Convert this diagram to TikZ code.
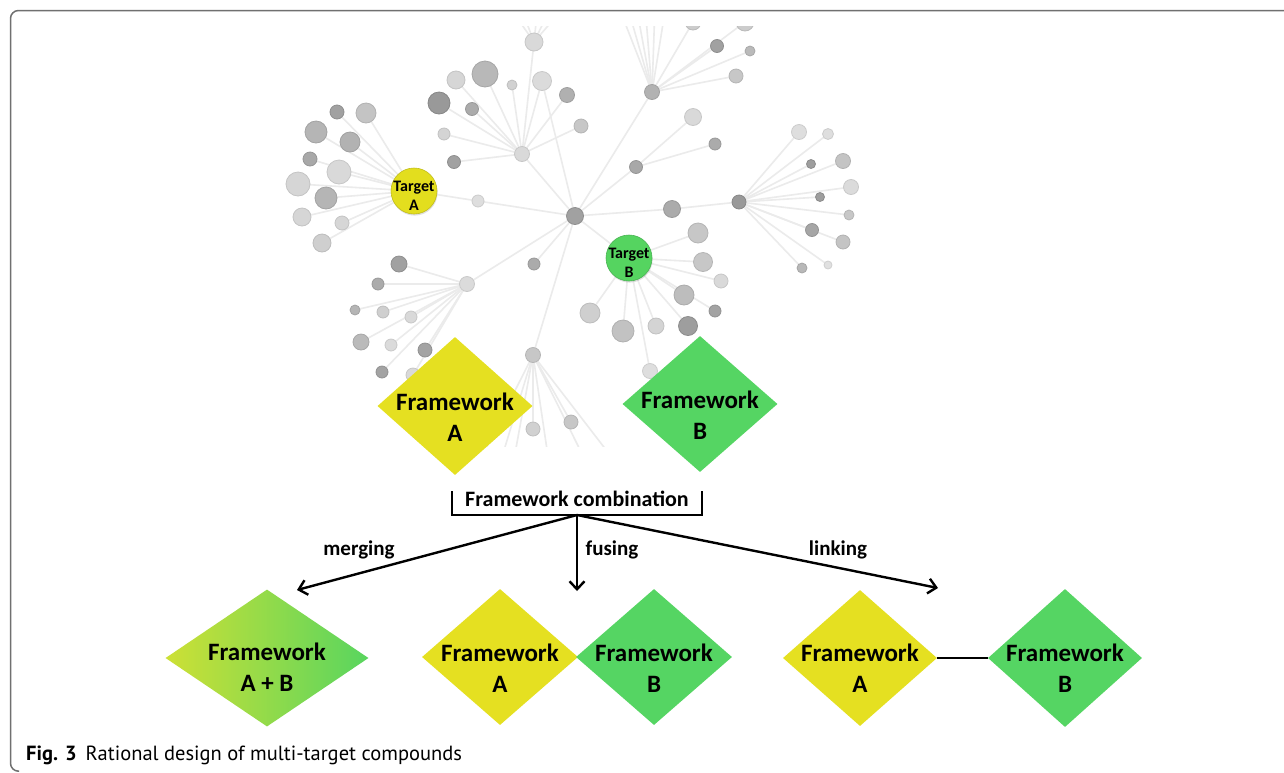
\documentclass[tikz,border=0pt]{standalone}
\usepackage{fontspec}
\setmainfont{Carlito}
\newfontfamily\capfont{PT Sans}
\usetikzlibrary{shapes.geometric,arrows.meta,shadows}
\definecolor{fwyellow}{HTML}{E5E021}
\definecolor{fwgreen}{HTML}{55D563}
\definecolor{tgyellow}{HTML}{E3DE1E}
\definecolor{tggreen}{HTML}{55D460}
\definecolor{abyellow}{HTML}{CDE035}
\definecolor{abgreen}{HTML}{58D55F}
\definecolor{edgegray}{HTML}{EBEBEB}
\definecolor{framegray}{HTML}{707070}
\tikzset{
  gedge/.style={edgegray, line width=1.6},
  gnode/.style={circle, inner sep=0pt, line width=0.8},
  target/.style={circle, inner sep=0pt, minimum size=46, line width=0.6,
    drop shadow={opacity=0.25, shadow xshift=0.6pt, shadow yshift=-1.6pt}},
  tgtext/.style={font=\bfseries\fontsize{16}{19}\selectfont, align=center, inner sep=0pt},
  fwbox/.style={diamond, inner sep=0pt},
  fwtext/.style={font=\bfseries\fontsize{25}{31}\selectfont, align=center, inner sep=0pt},
  lbltext/.style={font=\bfseries\fontsize{21}{25}\selectfont, inner sep=0pt},
  arr/.style={line width=2.4, -{Straight Barb[length=8pt,width=15pt,line width=2.4pt]}},
}
\begin{document}
\begin{tikzpicture}[x=1pt,y=-1pt]
\useasboundingbox (0,0) rectangle (1284,772);
\fill[white] (0,0) rectangle (1284,772);
% frame
\draw[framegray, line width=1.5, rounded corners=8] (1290,10.5) -- (10.5,10.5) -- (10.5,771.2) -- (19,771.2);

% ---------------- network ----------------
\begin{scope}
\clip (284,26) rectangle (874,446);
\foreach \n/\x/\y in {
 h0/575/216, h1/522/154, h2/652/92, h3/739/202, h4/467/284, h5/533/355, h6/636/167,
 tA/414/191, tB/629/258, c1/478/201, c2/672/209,
 a1/534/42, a2/485/74, a3/456/80, a4/512/85, a5/542/81, a6/567/95, a7/439/103,
 a8/472/109, a9/581/126, a10/444/134, a11/454/162,
 b1/717/46, b2/750/51, b3/736/76, b4/693/22, b5/745/22, b6/693/117, b7/715/144,
 r1/799/132, r2/828/134, r3/811/164, r4/843/161, r5/851/187, r6/820/197,
 r7/849/215, r8/812/230, r9/843/242, r10/802/268, r11/828/265,
 l1/337/112, l2/366/113, l3/316/132, l4/350/142, l5/310/159, l6/339/172,
 l7/298/184, l8/326/198, l9/302/217, l10/342/223, l11/322/243,
 m1/399/264, m2/378/284, m3/355/310, m4/383/312, m5/411/317, m6/361/342,
 m7/391/345, m8/425/350, m9/382/372, m10/413/375, m11/534/264,
 p1/571/422, p2/533/429,
 q1/698/233, q2/703/262, q3/721/281, q4/684/295, q5/715/311, q6/688/326,
 q7/656/326, q8/623/331, q9/590/313, q10/650/371,
 u1/508/5, u2/520/5, u3/538/5, u4/552/5, u5/566/5,
 v1/618/5, v2/627/5, v3/636/5, v4/645/5, v5/655/5, v6/666/5,
 w1/498/470, w2/512/470, w3/550/470, w4/590/470, w5/610/455, w6/480/460}
 \coordinate (\n) at (\x,\y);
\foreach \a/\b in {
 h0/h1, h0/h2, h0/h6, h0/c2, c2/h3, h0/c1, c1/tA, h0/tB, h0/h4, h0/h5, h0/m11, h0/a5,
 h1/a1, h1/a2, h1/a3, h1/a4, h1/a5, h1/a6, h1/a7, h1/a8, h1/a9, h1/a10, h1/a11,
 a1/u1, a1/u2, a1/u3, a1/u4, a1/u5,
 h2/b1, h2/b2, h2/b3, h2/b4, h2/b5, h2/v1, h2/v2, h2/v3, h2/v4, h2/v5, h2/v6,
 h6/b6, h6/b7,
 h3/r1, h3/r2, h3/r3, h3/r4, h3/r5, h3/r6, h3/r7, h3/r8, h3/r9, h3/r10, h3/r11,
 tA/l1, tA/l2, tA/l3, tA/l4, tA/l5, tA/l6, tA/l7, tA/l8, tA/l9, tA/l10, tA/l11,
 h4/m1, h4/m2, h4/m3, h4/m4, h4/m5, h4/m6, h4/m7, h4/m8, h4/m9, h4/m10,
 h5/p1, h5/p2, h5/w1, h5/w2, h5/w3, h5/w4, h5/w5, h5/w6,
 tB/q1, tB/q2, tB/q3, tB/q4, tB/q5, tB/q6, tB/q7, tB/q8, tB/q9, tB/q10}
 \draw[gedge] (\a) -- (\b);
\foreach \n/\r/\g in {
 h0/8.5/37, h1/7.5/15, h2/7.5/30, h3/7/40, h4/7.5/14, h5/7.5/22, h6/6.5/34,
 c1/6/13, c2/8.5/33,
 a1/9/15, a2/13/28, a3/9/16, a4/5/18, a5/9.5/14, a6/7.5/31, a7/11/40,
 a8/6.5/33, a9/7/22, a10/6/17, a11/6.5/37,
 b1/6.5/37, b2/5/27, b3/7/22, b4/8/20, b5/9/20, b6/8.5/15, b7/6/33,
 r1/7.5/13, r2/5.5/13, r3/4.5/38, r4/7.5/23, r5/7.5/14, r6/4.5/38,
 r7/5/22, r8/6.5/35, r9/7/23, r10/5/28, r11/4/12,
 l1/7/37, l2/10/23, l3/11/29, l4/10/30, l5/7/34, l6/12/15,
 l7/12/16, l8/11/29, l9/9/16, l10/7/16, l11/9/19,
 m1/8/37, m2/6/33, m3/5/29, m4/6/19, m5/6/15, m6/8/27,
 m7/6/14, m8/7/36, m9/6/36, m10/7/15, m11/6/33,
 p1/7/22, p2/7/18,
 q1/10/22, q2/9.5/22, q3/7/15, q4/10/26, q5/6/36, q6/9.5/38,
 q7/8/17, q8/11/24, q9/10/19, q10/7.5/13}
 {\pgfmathtruncatemacro\gd{\g+7}
  \node[gnode, minimum size=2*\r pt, fill=black!\g, draw=black!\gd] (d\n) at (\n) {};}
\node[target, fill=tgyellow, draw=tgyellow!85!black] (ntA) at (tA) {};
\node[tgtext] (ttA) at (414,196) {Target\\A};
\node[target, fill=tggreen, draw=tggreen!85!black] (ntB) at (tB) {};
\node[tgtext] (ttB) at (629,263) {Target\\B};
\end{scope}

% ---------------- top frameworks ----------------
\node[fwbox, fill=fwyellow, minimum width=155, minimum height=138] (fwA) at (455,406) {};
\node[fwtext] (fwAt) at (455,417) {Framework\\A};
\node[fwbox, fill=fwgreen, minimum width=155, minimum height=136] (fwB) at (700,404) {};
\node[fwtext] (fwBt) at (700,415) {Framework\\B};

% ---------------- combination ----------------
\node[lbltext, font=\bfseries\fontsize{22}{26}\selectfont] (fc) at (577,499) {Framework combination};
\draw[line width=2.4] (452,491) -- (452,515) -- (702,515) -- (702,491);
\coordinate (cb) at (577,515);
\coordinate (mt) at (297,590);
\coordinate (ft) at (577,591);
\coordinate (lt) at (938,588);
\draw[arr] (cb) -- (mt);
\draw[arr] (cb) -- (ft);
\draw[arr] (cb) -- (lt);
\node[lbltext] (lm) at (359,550) {merging};
\node[lbltext] (lf) at (612,550) {fusing};
\node[lbltext] (ll) at (838,550) {linking};

% ---------------- bottom frameworks ----------------
\node[fwbox, left color=abyellow, right color=abgreen, minimum width=203, minimum height=137] (mAB) at (267,658) {};
\node[fwtext] (mABt) at (267,667) {Framework\\A + B};
\node[fwbox, fill=fwyellow, minimum width=156, minimum height=136] (fA) at (500,657) {};
\node[fwtext] (fAt) at (500,668) {Framework\\A};
\node[fwbox, fill=fwgreen, minimum width=156, minimum height=136] (fB) at (654,657) {};
\node[fwtext] (fBt) at (654,668) {Framework\\B};
\node[fwbox, fill=fwyellow, minimum width=154, minimum height=136] (lA) at (860,658) {};
\node[fwtext] (lAt) at (860,668) {Framework\\A};
\node[fwbox, fill=fwgreen, minimum width=154, minimum height=138] (lB) at (1065,658) {};
\node[fwtext] (lBt) at (1065,668) {Framework\\B};
\draw[line width=2.4] (lA.east) -- (lB.west);

% ---------------- caption ----------------
\node[anchor=base west, inner sep=0pt, font=\capfont\fontsize{20.5}{24}\selectfont] (cap) at (26,760)
  {{\bfseries Fig. 3}\hspace{9pt}Rational design of multi-target compounds};
\end{tikzpicture}
\end{document}
